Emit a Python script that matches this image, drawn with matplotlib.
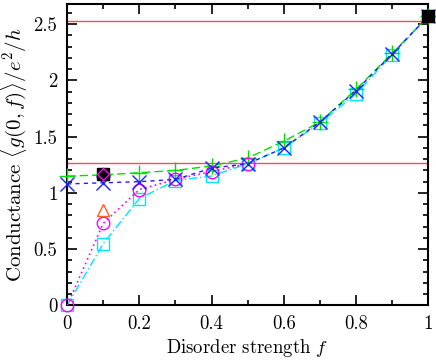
import numpy as np
import matplotlib
matplotlib.use("Agg")
import matplotlib.pyplot as plt
from matplotlib.ticker import MultipleLocator, FuncFormatter

plt.rcParams["font.family"] = "serif"
plt.rcParams["font.serif"] = ["cmr10", "DejaVu Serif"]
plt.rcParams["mathtext.fontset"] = "cm"
plt.rcParams["axes.formatter.use_mathtext"] = True

# data
f_all = [0.0, 0.1, 0.2, 0.3, 0.4, 0.5, 0.6, 0.7, 0.8, 0.9, 1.0]
g_plus = [1.15, 1.16, 1.18, 1.20, 1.24, 1.31, 1.46, 1.63, 1.92, 2.24, 2.57]
g_cross = [1.08, 1.09, 1.10, 1.12, 1.22, 1.26, 1.40, 1.63, 1.91, 2.235, 2.57]
f_circ = [0.0, 0.1, 0.2, 0.3, 0.4, 0.5]
g_circ = [0.0, 0.73, 1.03, 1.12, 1.19, 1.26]
g_square = [0.0, 0.55, 0.95, 1.11, 1.15, 1.26, 1.40, 1.62, 1.88, 2.23, 2.57]
f_tri = [0.1]
g_tri = [0.85]
f_black = [0.1, 1.0]
g_black = [1.17, 2.575]
f_diam = [0.1]
g_diam = [1.17]
ref_lines = [2.53, 1.265]

fig = plt.figure(figsize=(4.36, 3.61), dpi=100)
ax = fig.add_axes([0.154, 0.154, 0.828, 0.835])

for r in ref_lines:
    ax.axhline(r, color="#f05050", lw=1.0, zorder=1)

kw = dict(clip_on=False)
ax.plot(f_all, g_plus, color="#00e000", ls=(0, (6, 3)), lw=1.0, marker="+",
        ms=12, mew=1.0, zorder=3, **kw)
ax.plot(f_all, g_cross, color="#1f1fff", ls=(0, (3, 3)), lw=1.0, marker="x",
        ms=9.5, mew=1.0, zorder=4, **kw)
ax.plot(f_circ, g_circ, color="#ff00ff", ls=(0, (1, 2)), lw=1.2, marker="o",
        ms=9, mfc="none", mew=1.0, zorder=3, **kw)
ax.plot(f_all, g_square, color="#00e5ff", ls=(0, (6, 2, 1, 2)), lw=1.0,
        marker="s", ms=9, mfc="none", mew=1.0, zorder=2, **kw)
ax.plot(f_tri, g_tri, ls="none", marker="^", ms=9, mfc="none",
        mec="#ff6020", mew=1.0, zorder=3, **kw)
ax.plot(f_black, g_black, ls="none", marker="s", ms=9, color="black",
        zorder=5, **kw)
ax.plot(f_diam, g_diam, ls="none", marker="D", ms=6, mfc="none",
        mec="#ff00ff", mew=1.0, zorder=6, **kw)

ax.set_xlim(0, 1)
ax.set_ylim(0, 2.68)
ax.xaxis.set_major_locator(MultipleLocator(0.2))
ax.xaxis.set_minor_locator(MultipleLocator(0.1))
ax.yaxis.set_major_locator(MultipleLocator(0.5))
ax.yaxis.set_minor_locator(MultipleLocator(0.1))
fmt = FuncFormatter(lambda v, p: ("%g" % round(v, 3)))
ax.xaxis.set_major_formatter(fmt)
ax.yaxis.set_major_formatter(fmt)
ax.tick_params(which="both", direction="in", top=True, right=True,
               labelsize=13.5, width=1.2)
ax.tick_params(which="major", length=7, pad=7)
ax.tick_params(which="minor", length=3.5)
for s in ax.spines.values():
    s.set_linewidth(1.5)

ax.set_xlabel(r"Disorder strength $f$", fontsize=13.5, labelpad=3)
ax.set_ylabel(r"Conductance $\langle g(0,f)\rangle/e^2/h$", fontsize=15,
              labelpad=3)

fig.savefig("out.png", dpi=100)
